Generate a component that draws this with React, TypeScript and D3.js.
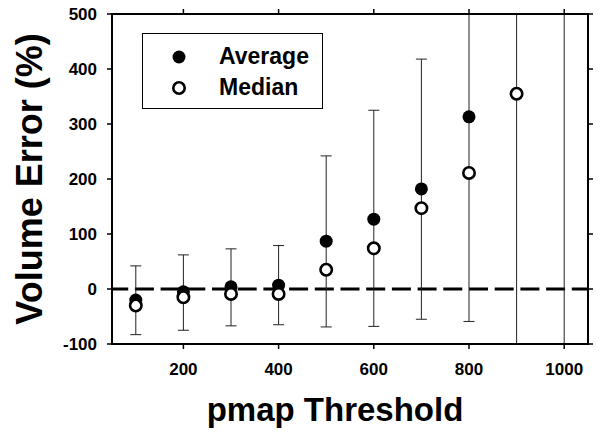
import React from "react";
import * as d3 from "d3";

const thresholds = [100, 200, 300, 400, 500, 600, 700, 800, 900, 1000];
const averageValues: (number | null)[] = [-20, -5, 4, 7, 87, 127, 182, 313, null, null];
const medianValues: (number | null)[] = [-30, -15, -9, -9, 35, 74, 147, 211, 355, null];
const errLow = [-83, -75, -67, -65, -69, -68, -55, -59, -200, -200];
const errHigh = [42, 62, 73, 79, 242, 325, 418, 600, 700, 700];
const xTicks = [200, 400, 600, 800, 1000];
const yTicks = [-100, 0, 100, 200, 300, 400, 500];

const W = 602, H = 434;
const M = { left: 112, right: 588, top: 14, bottom: 344 };

export default function App() {
  const x = d3.scaleLinear().domain([50, 1050]).range([M.left, M.right]);
  const y = d3.scaleLinear().domain([-100, 500]).range([M.bottom, M.top]);
  const font = "Arial, 'Liberation Sans', sans-serif";
  const idx = thresholds.map((_, i) => i);
  return (
    <svg width={W} height={H} style={{ position: "absolute", left: 0, top: 0, background: "#fff" }} fontFamily={font}>
      <defs>
        <clipPath id="plot">
          <rect x={M.left} y={M.top} width={M.right - M.left} height={M.bottom - M.top} />
        </clipPath>
      </defs>
      {/* zero dashed line */}
      <line x1={M.left} x2={M.right} y1={y(0)} y2={y(0)} stroke="#000" strokeWidth={3} strokeDasharray="19,6.7" strokeDashoffset={2.8} />
      {/* error bars */}
      <g clipPath="url(#plot)">
        {idx.map((i) => (
          <g key={"e" + i} stroke="#222" strokeWidth={1}>
            <line x1={x(thresholds[i])} x2={x(thresholds[i])} y1={y(errLow[i])} y2={y(errHigh[i])} />
            <line x1={x(thresholds[i]) - 5.5} x2={x(thresholds[i]) + 5.5} y1={y(errLow[i])} y2={y(errLow[i])} />
            <line x1={x(thresholds[i]) - 5.5} x2={x(thresholds[i]) + 5.5} y1={y(errHigh[i])} y2={y(errHigh[i])} />
          </g>
        ))}
      </g>
      {/* average markers */}
      {idx.filter((i) => averageValues[i] !== null).map((i) => (
        <circle key={"a" + i} cx={x(thresholds[i])} cy={y(averageValues[i] as number)} r={6.5} fill="#000" />
      ))}
      {/* median markers */}
      {idx.filter((i) => medianValues[i] !== null).map((i) => (
        <circle key={"m" + i} cx={x(thresholds[i])} cy={y(medianValues[i] as number)} r={5.7} fill="#fff" stroke="#000" strokeWidth={2.6} />
      ))}
      {/* frame */}
      <rect x={M.left} y={M.top} width={M.right - M.left} height={M.bottom - M.top} fill="none" stroke="#000" strokeWidth={2} />
      {/* x ticks */}
      {xTicks.map((t) => (
        <g key={"xt" + t}>
          <line x1={x(t)} x2={x(t)} y1={M.bottom} y2={M.bottom + 5} stroke="#000" strokeWidth={1.5} />
          <line x1={x(t)} x2={x(t)} y1={M.top} y2={M.top - 5} stroke="#000" strokeWidth={1.5} />
          <text x={x(t)} y={375} textAnchor="middle" fontSize={17} fontWeight="bold">{t}</text>
        </g>
      ))}
      {/* y ticks */}
      {yTicks.map((t) => (
        <g key={"yt" + t}>
          <line x1={M.left} x2={M.left - 5} y1={y(t)} y2={y(t)} stroke="#000" strokeWidth={1.5} />
          <line x1={M.right} x2={M.right + 5} y1={y(t)} y2={y(t)} stroke="#000" strokeWidth={1.5} />
          <text x={97} y={y(t) + 6} textAnchor="end" fontSize={17} fontWeight="bold">{t}</text>
        </g>
      ))}
      {/* axis titles */}
      <text x={335} y={421} textAnchor="middle" fontSize={33} fontWeight="bold">pmap Threshold</text>
      <text transform={`translate(41.5,179) rotate(-90)`} textAnchor="middle" fontSize={36} fontWeight="bold">Volume Error (%)</text>
      {/* legend */}
      <rect x={142.5} y={33.5} width={180} height={75} fill="#fff" stroke="#000" strokeWidth={1} />
      <circle cx={179} cy={57} r={6.5} fill="#000" />
      <circle cx={179} cy={88} r={5.7} fill="#fff" stroke="#000" strokeWidth={2.6} />
      <text x={219} y={64} fontSize={23} fontWeight="bold">Average</text>
      <text x={219} y={95} fontSize={23} fontWeight="bold">Median</text>
    </svg>
  );
}
